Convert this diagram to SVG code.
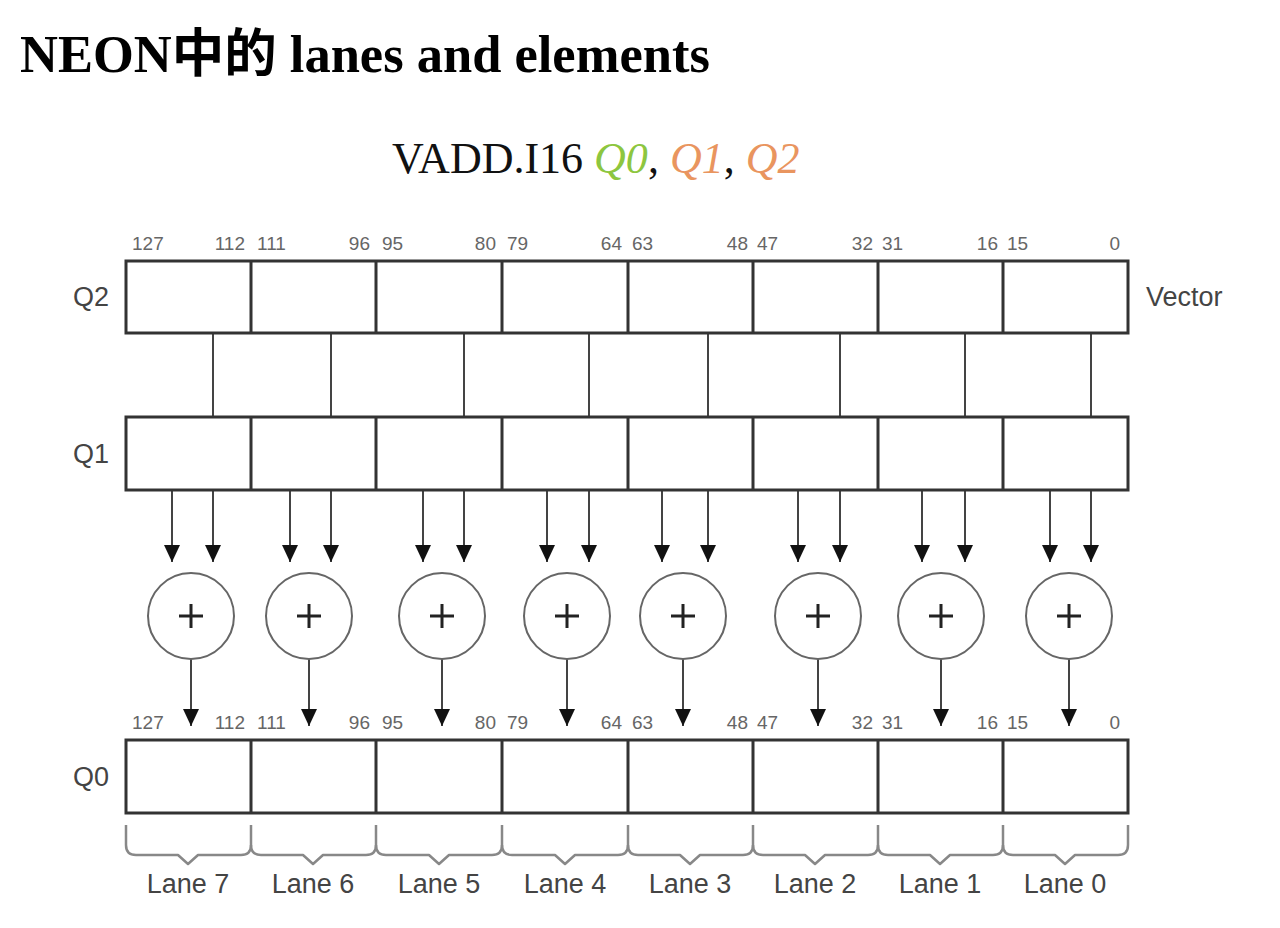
<svg xmlns="http://www.w3.org/2000/svg" width="1280" height="928" viewBox="0 0 1280 928">
<style>
.title{font-family:"Liberation Serif","Noto Sans CJK SC",serif;font-weight:bold;font-size:52.5px;fill:#000}
.instr{font-family:"Liberation Serif",serif;font-size:44px;fill:#111}
.g{fill:#8dc63f;font-style:italic}
.o{fill:#e9955f;font-style:italic}
.reg{font-family:"Liberation Sans",Arial,sans-serif;font-size:27px;fill:#444}
.bit{font-family:"Liberation Sans",Arial,sans-serif;font-size:19px;fill:#666}
.end{text-anchor:end}
.lane{font-family:"Liberation Sans",Arial,sans-serif;font-size:27px;fill:#444;text-anchor:middle}
.box{fill:#fff;stroke:#333;stroke-width:3}
.div{stroke:#333;stroke-width:3}
.wire{stroke:#444;stroke-width:2;fill:none}
.circ{fill:#fff;stroke:#666;stroke-width:2}
.plus{stroke:#222;stroke-width:3}
.brace{fill:none;stroke:#888;stroke-width:2.5;stroke-linejoin:round}
</style>
<defs>
<marker id="ah" markerWidth="17" markerHeight="16" refX="17" refY="8" orient="auto" markerUnits="userSpaceOnUse" viewBox="0 0 17 16">
<path d="M0,0 L17,8 L0,16 Z" fill="#111"/>
</marker>
</defs>
<rect width="1280" height="928" fill="#fff"/>
<text class="title" x="20" y="72">NEON中的 lanes and elements</text>
<text class="instr" x="392" y="173">VADD.I16 <tspan class="g">Q0</tspan>, <tspan class="o">Q1</tspan>, <tspan class="o">Q2</tspan></text>

<g id="connectors">
<line class="wire" x1="213" y1="333" x2="213" y2="562" marker-end="url(#ah)"/>
<line class="wire" x1="331" y1="333" x2="331" y2="562" marker-end="url(#ah)"/>
<line class="wire" x1="464" y1="333" x2="464" y2="562" marker-end="url(#ah)"/>
<line class="wire" x1="589" y1="333" x2="589" y2="562" marker-end="url(#ah)"/>
<line class="wire" x1="708" y1="333" x2="708" y2="562" marker-end="url(#ah)"/>
<line class="wire" x1="840" y1="333" x2="840" y2="562" marker-end="url(#ah)"/>
<line class="wire" x1="965" y1="333" x2="965" y2="562" marker-end="url(#ah)"/>
<line class="wire" x1="1091" y1="333" x2="1091" y2="562" marker-end="url(#ah)"/>
<line class="wire" x1="172" y1="490" x2="172" y2="562" marker-end="url(#ah)"/>
<line class="wire" x1="290" y1="490" x2="290" y2="562" marker-end="url(#ah)"/>
<line class="wire" x1="423" y1="490" x2="423" y2="562" marker-end="url(#ah)"/>
<line class="wire" x1="547" y1="490" x2="547" y2="562" marker-end="url(#ah)"/>
<line class="wire" x1="662" y1="490" x2="662" y2="562" marker-end="url(#ah)"/>
<line class="wire" x1="798" y1="490" x2="798" y2="562" marker-end="url(#ah)"/>
<line class="wire" x1="922" y1="490" x2="922" y2="562" marker-end="url(#ah)"/>
<line class="wire" x1="1050" y1="490" x2="1050" y2="562" marker-end="url(#ah)"/>
<line class="wire" x1="191" y1="659" x2="191" y2="726" marker-end="url(#ah)"/>
<line class="wire" x1="309" y1="659" x2="309" y2="726" marker-end="url(#ah)"/>
<line class="wire" x1="442" y1="659" x2="442" y2="726" marker-end="url(#ah)"/>
<line class="wire" x1="567" y1="659" x2="567" y2="726" marker-end="url(#ah)"/>
<line class="wire" x1="683" y1="659" x2="683" y2="726" marker-end="url(#ah)"/>
<line class="wire" x1="818" y1="659" x2="818" y2="726" marker-end="url(#ah)"/>
<line class="wire" x1="941" y1="659" x2="941" y2="726" marker-end="url(#ah)"/>
<line class="wire" x1="1069" y1="659" x2="1069" y2="726" marker-end="url(#ah)"/>
</g>

<g id="Q2">
<rect class="box" x="126" y="261" width="1002" height="72"/>
<path class="div" d="M251,261V333M376,261V333M502,261V333M628,261V333M753,261V333M878,261V333M1003,261V333"/>
<text class="reg" x="73" y="306">Q2</text>
<text class="reg" x="1146" y="306">Vector</text>
<text class="bit" x="132" y="250">127</text><text class="bit end" x="245" y="250">112</text>
<text class="bit" x="257" y="250">111</text><text class="bit end" x="370" y="250">96</text>
<text class="bit" x="382" y="250">95</text><text class="bit end" x="496" y="250">80</text>
<text class="bit" x="507" y="250">79</text><text class="bit end" x="622" y="250">64</text>
<text class="bit" x="632" y="250">63</text><text class="bit end" x="748" y="250">48</text>
<text class="bit" x="757" y="250">47</text><text class="bit end" x="873" y="250">32</text>
<text class="bit" x="882" y="250">31</text><text class="bit end" x="998" y="250">16</text>
<text class="bit" x="1007" y="250">15</text><text class="bit end" x="1120" y="250">0</text>
</g>

<g id="Q1">
<rect class="box" x="126" y="417" width="1002" height="73"/>
<path class="div" d="M251,417V490M376,417V490M502,417V490M628,417V490M753,417V490M878,417V490M1003,417V490"/>
<text class="reg" x="73" y="463">Q1</text>
</g>

<g id="adders">
<g id="add7"><circle class="circ" cx="191" cy="616" r="43"/><path class="plus" d="M179,616H203M191,604V628"/></g>
<g id="add6"><circle class="circ" cx="309" cy="616" r="43"/><path class="plus" d="M297,616H321M309,604V628"/></g>
<g id="add5"><circle class="circ" cx="442" cy="616" r="43"/><path class="plus" d="M430,616H454M442,604V628"/></g>
<g id="add4"><circle class="circ" cx="567" cy="616" r="43"/><path class="plus" d="M555,616H579M567,604V628"/></g>
<g id="add3"><circle class="circ" cx="683" cy="616" r="43"/><path class="plus" d="M671,616H695M683,604V628"/></g>
<g id="add2"><circle class="circ" cx="818" cy="616" r="43"/><path class="plus" d="M806,616H830M818,604V628"/></g>
<g id="add1"><circle class="circ" cx="941" cy="616" r="43"/><path class="plus" d="M929,616H953M941,604V628"/></g>
<g id="add0"><circle class="circ" cx="1069" cy="616" r="43"/><path class="plus" d="M1057,616H1081M1069,604V628"/></g>
</g>

<g id="Q0">
<rect class="box" x="126" y="740" width="1002" height="73"/>
<path class="div" d="M251,740V813M376,740V813M502,740V813M628,740V813M753,740V813M878,740V813M1003,740V813"/>
<text class="reg" x="73" y="786">Q0</text>
<text class="bit" x="132" y="729">127</text><text class="bit end" x="245" y="729">112</text>
<text class="bit" x="257" y="729">111</text><text class="bit end" x="370" y="729">96</text>
<text class="bit" x="382" y="729">95</text><text class="bit end" x="496" y="729">80</text>
<text class="bit" x="507" y="729">79</text><text class="bit end" x="622" y="729">64</text>
<text class="bit" x="632" y="729">63</text><text class="bit end" x="748" y="729">48</text>
<text class="bit" x="757" y="729">47</text><text class="bit end" x="873" y="729">32</text>
<text class="bit" x="882" y="729">31</text><text class="bit end" x="998" y="729">16</text>
<text class="bit" x="1007" y="729">15</text><text class="bit end" x="1120" y="729">0</text>
</g>

<g id="lanes">
<path class="brace" d="M126,825V845Q126,855 136,855H178L188,864L198,855H241Q251,855 251,845V825"/>
<path class="brace" d="M251,845Q251,855 261,855H303L313,864L323,855H366Q376,855 376,845V825"/>
<path class="brace" d="M376,845Q376,855 386,855H429L439,864L449,855H492Q502,855 502,845V825"/>
<path class="brace" d="M502,845Q502,855 512,855H555L565,864L575,855H618Q628,855 628,845V825"/>
<path class="brace" d="M628,845Q628,855 638,855H680L690,864L700,855H743Q753,855 753,845V825"/>
<path class="brace" d="M753,845Q753,855 763,855H805L815,864L825,855H868Q878,855 878,845V825"/>
<path class="brace" d="M878,845Q878,855 888,855H930L940,864L950,855H993Q1003,855 1003,845V825"/>
<path class="brace" d="M1003,845Q1003,855 1013,855H1055L1065,864L1075,855H1118Q1128,855 1128,845V825"/>
<text class="lane" x="188" y="893">Lane 7</text>
<text class="lane" x="313" y="893">Lane 6</text>
<text class="lane" x="439" y="893">Lane 5</text>
<text class="lane" x="565" y="893">Lane 4</text>
<text class="lane" x="690" y="893">Lane 3</text>
<text class="lane" x="815" y="893">Lane 2</text>
<text class="lane" x="940" y="893">Lane 1</text>
<text class="lane" x="1065" y="893">Lane 0</text>
</g>
</svg>
